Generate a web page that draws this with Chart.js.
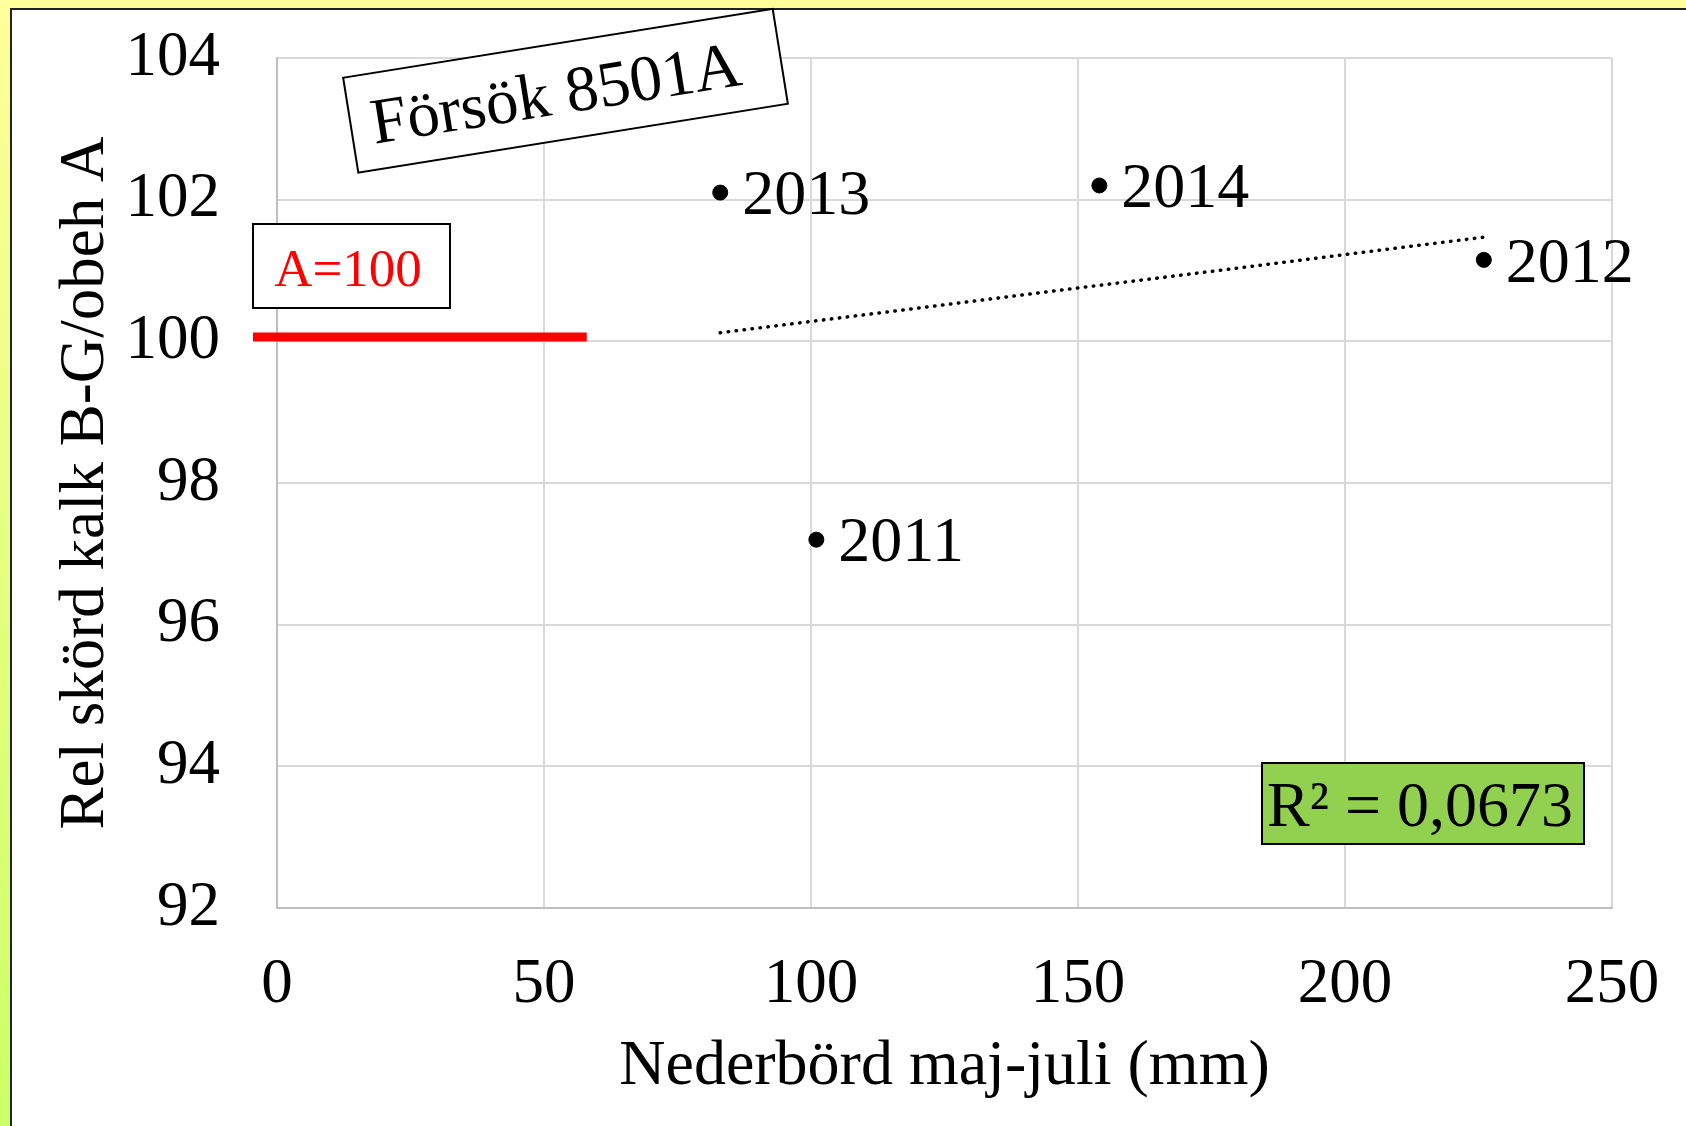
<!DOCTYPE html>
<html>
<head>
<meta charset="utf-8">
<script src="https://cdn.jsdelivr.net/npm/chart.js@4.4.0/dist/chart.umd.min.js"></script>
<style>
html, body { margin: 0; padding: 0; width: 1686px; height: 1126px; overflow: hidden; }
body { position: relative; background: linear-gradient(to bottom, #ffff99 0%, #ccff66 100%); }
#frame { position: absolute; left: 10px; top: 8px; right: -10px; bottom: -10px; background: #fff; border-left: 2px solid #222; border-top: 2px solid #222; }
#myChart { position: absolute; left: 0; top: 0; }
</style>
</head>
<body>
<div id="frame"></div>
<canvas id="myChart" width="1686" height="1126"></canvas>
<script>
// år och värden
var years = ['2011', '2012', '2013', '2014'];
var precip = [101, 226, 83, 154];          // Nederbörd maj-juli (mm)
var relYield = [97.2, 101.15, 102.1, 102.2]; // Rel skörd

// linjär trendlinje (ändpunkter avlästa)
var trendX = [83, 226];
var trendY = [100.12, 101.47];

// röd referenslinje A=100
var refX = [-4.5, 58];
var refY = [100.06, 100.06];

var xTicks = [0, 50, 100, 150, 200, 250];
var yTicks = [92, 94, 96, 98, 100, 102, 104];

var serif = "'Liberation Serif', 'Times New Roman', serif";

var annotations = {
    id: 'annotations',
    afterDatasetsDraw: function(chart) {
        var ctx = chart.ctx;
        ctx.save();

        // årtal bredvid punkterna
        var meta = chart.getDatasetMeta(0);
        ctx.fillStyle = '#000';
        ctx.font = '64px ' + serif;
        ctx.textAlign = 'left';
        ctx.textBaseline = 'middle';
        meta.data.forEach(function(pt, i) {
            ctx.fillText(years[i], pt.x + 22, pt.y + 5);
        });

        // A=100 ruta
        ctx.fillStyle = '#fff';
        ctx.fillRect(253, 224, 197, 84);
        ctx.strokeStyle = '#000';
        ctx.lineWidth = 2;
        ctx.strokeRect(253, 224, 197, 84);
        ctx.fillStyle = '#ff0000';
        ctx.font = '53px ' + serif;
        ctx.textAlign = 'center';
        ctx.textBaseline = 'alphabetic';
        ctx.fillText('A=100', 348, 286);

        // R² ruta
        ctx.fillStyle = '#92d050';
        ctx.fillRect(1262, 763, 322, 81);
        ctx.strokeStyle = '#000';
        ctx.strokeRect(1262, 763, 322, 81);
        ctx.fillStyle = '#000';
        ctx.font = '64px ' + serif;
        ctx.fillText('R² = 0,0673', 1420, 826);

        // Försök-ruta, lutande
        ctx.translate(565.5, 90.75);
        ctx.rotate(-9.1 * Math.PI / 180);
        ctx.fillStyle = '#fff';
        ctx.fillRect(-217.5, -48, 435, 96);
        ctx.strokeStyle = '#000';
        ctx.strokeRect(-217.5, -48, 435, 96);
        ctx.fillStyle = '#000';
        ctx.font = '65px ' + serif;
        ctx.textBaseline = 'middle';
        ctx.fillText('Försök 8501A', -10, 5);

        ctx.restore();
    }
};

document.addEventListener("DOMContentLoaded", function()
{
    var canvas = document.getElementById("myChart");

    new Chart(canvas, {
        type: 'scatter',
        data: {
            datasets: [{
                data: precip.map(function(x, i) { return { x: x, y: relYield[i] }; }),
                backgroundColor: '#000',
                borderColor: '#000',
                pointRadius: 7.5,
                pointHoverRadius: 7.5
            }, {
                type: 'line',
                data: trendX.map(function(x, i) { return { x: x, y: trendY[i] }; }),
                borderColor: '#000',
                borderWidth: 3.5,
                borderDash: [0.5, 7.5],
                borderCapStyle: 'round',
                pointRadius: 0,
                fill: false
            }, {
                type: 'line',
                data: refX.map(function(x, i) { return { x: x, y: refY[i] }; }),
                borderColor: '#ff0000',
                borderWidth: 9,
                borderCapStyle: 'butt',
                pointRadius: 0,
                fill: false,
                clip: false
            }]
        },
        options: {
            responsive: false,
            animation: false,
            events: [],
            layout: { padding: { left: 0, right: 74, top: 58, bottom: 0 } },
            plugins: {
                legend: { display: false },
                tooltip: { enabled: false }
            },
            scales: {
                x: {
                    type: 'linear',
                    min: xTicks[0],
                    max: xTicks[xTicks.length - 1],
                    afterBuildTicks: function(s) { s.ticks = xTicks.map(function(v) { return { value: v }; }); },
                    afterFit: function(s) { s.height = 218; s.paddingLeft = 0; s.paddingRight = 0; },
                    ticks: { padding: 40, color: '#000', font: { family: serif, size: 63 }, maxRotation: 0 },
                    grid: { color: '#d9d9d9', lineWidth: 2, drawTicks: false },
                    border: { color: '#bfbfbf', width: 2 },
                    title: {
                        display: true,
                        text: 'Nederbörd maj-juli (mm)',
                        color: '#000',
                        font: { family: serif, size: 64 },
                        padding: { top: 0, bottom: 20 }
                    }
                },
                y: {
                    min: yTicks[0],
                    max: yTicks[yTicks.length - 1],
                    afterBuildTicks: function(s) { s.ticks = yTicks.map(function(v) { return { value: v }; }); },
                    afterFit: function(s) { s.width = 277; s.paddingTop = 0; s.paddingBottom = 0; },
                    ticks: { padding: 57, color: '#000', font: { family: serif, size: 63 } },
                    grid: { color: '#d9d9d9', lineWidth: 2, drawTicks: false },
                    border: { color: '#bfbfbf', width: 2 },
                    title: {
                        display: true,
                        text: 'Rel skörd kalk B-G/obeh A',
                        color: '#000',
                        font: { family: serif, size: 63 },
                        padding: { top: 49, bottom: 0 }
                    }
                }
            }
        },
        plugins: [annotations]
    });
})
</script>
</body>
</html>
